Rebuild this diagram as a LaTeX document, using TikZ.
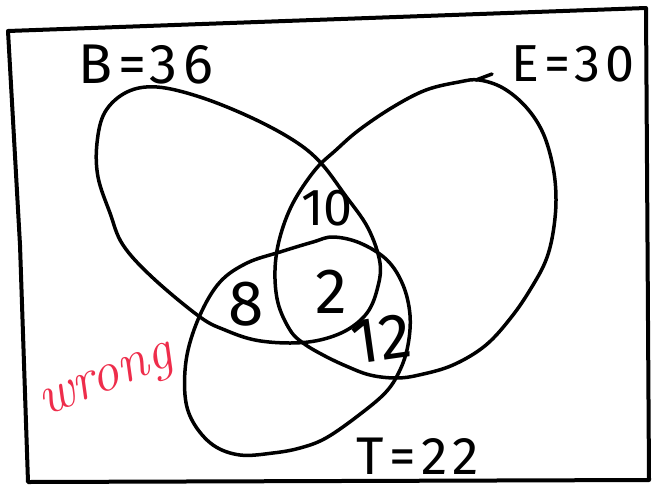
\documentclass[tikz,border=0pt]{standalone}
\usepackage{fontspec}
\newfontfamily\hand{Fira Sans}
\newfontfamily\handwide{Fira Sans}[LetterSpace=10]
\definecolor{penred}{RGB}{238,45,75}
\begin{document}
\begin{tikzpicture}[x=1pt,y=-1pt,
  pen/.style={line width=3.5pt,line join=round,line cap=round,black},
  lbl/.style={font=\handwide\fontsize{56}{60}\selectfont,inner sep=0pt},
  num/.style={font=\hand\fontsize{64}{66}\selectfont,inner sep=0pt}]
\useasboundingbox (0,0) rectangle (652,490);
% frame
\draw[pen,line width=4pt] (8,31) -- (646,8) -- (649,480) -- (28,482) -- (20,245) -- cycle;
% B
\draw[pen] plot[smooth cycle,tension=0.6] coordinates {(157,87) (200,97) (250,117) (293,140) (320,162) (345,195) (368,228) (380,263) (377,290) (367,313) (347,330) (320,340) (290,343) (255,340) (225,330) (200,317) (153,278) (123,245) (110,213) (98,177) (97,143) (105,112) (127,92)};
% E
\draw[pen] plot[smooth cycle,tension=0.6] coordinates {(479,80) (503,88) (526,107) (543,133) (553,167) (556,200) (553,233) (546,260) (533,285) (513,315) (486,345) (453,365) (419,375) (396,378) (370,375) (346,366) (323,355) (303,343) (290,330) (278,303) (275,270) (280,237) (293,203) (315,170) (336,150) (359,130) (393,107) (426,90) (459,82)};
\coordinate (hookA) at (476,80);
\coordinate (hookB) at (492,74);
\draw[pen] (hookA) -- (hookB);
% T
\draw[pen] plot[smooth cycle,tension=0.6] coordinates {(333,237) (360,243) (387,260) (403,285) (410,315) (408,345) (400,370) (386,392) (359,415) (326,438) (300,448) (273,453) (240,455) (213,445) (193,422) (185,395) (187,355) (200,315) (220,282) (247,263) (280,252) (313,242)};
% labels
\node[lbl] (lb) at (146,65) {B=36};
\node[lbl,font=\handwide\fontsize{52}{56}\selectfont] (le) at (573,64) {E=30};
\node[lbl,font=\handwide\fontsize{53}{56}\selectfont] (lt) at (418,456) {T=22};
\node[font=\hand\fontsize{52}{54}\selectfont,inner sep=0pt] (n10) at (327,208) {10};
\node[num] (n2) at (331,292) {2};
\node[num] (n8) at (246,304) {8};
\node[num,rotate=8] (n12) at (381,339) {12};
\node[font=\itshape\fontsize{56}{60}\selectfont,text=penred,rotate=22,inner sep=0pt] (wr) at (108,384) {wrong};
\end{tikzpicture}
\end{document}
